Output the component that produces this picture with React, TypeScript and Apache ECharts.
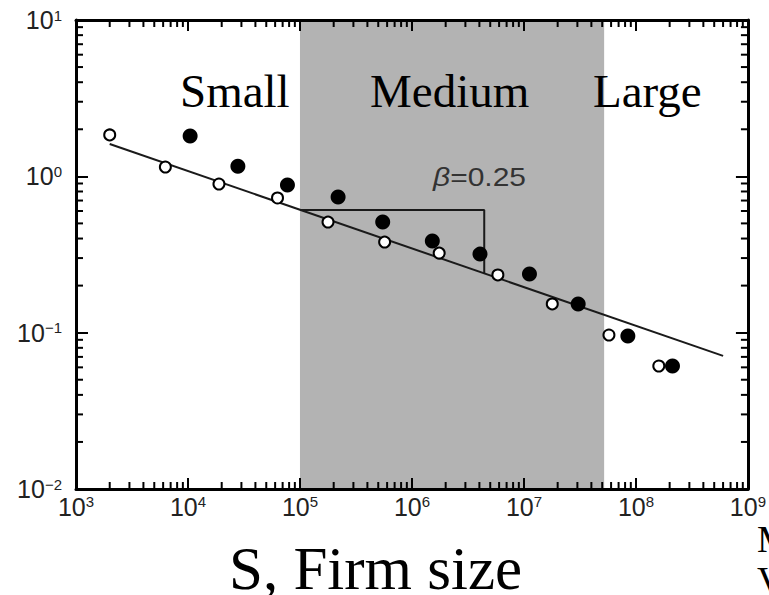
import React, { useEffect, useRef } from "react";
import * as echarts from "echarts";

// ---- data ----
const openSizes = [2.0e3, 6.28e3, 1.89e4, 6.3e4, 1.78e5, 5.7e5, 1.75e6, 5.85e6, 1.79e7, 5.74e7, 1.6e8];
const openValues = [1.84, 1.147, 0.893, 0.727, 0.51, 0.38, 0.323, 0.234, 0.1526, 0.0966, 0.0612];
const filledSizes = [1.045e4, 2.79e4, 7.73e4, 2.19e5, 5.48e5, 1.52e6, 4.05e6, 1.12e7, 3.05e7, 8.47e7, 2.12e8];
const filledValues = [1.81, 1.16, 0.88, 0.738, 0.51, 0.386, 0.318, 0.237, 0.1526, 0.0952, 0.0612];
const fitX = [2e3, 6e8];
const fitY = [1.61, 0.071];
const triangleX = [1e5, 4.42e6, 4.42e6];
const triangleY = [0.609, 0.609, 0.24];
const mediumBand = [1e5, 5.2e7];
const xDecades = [1e3, 1e4, 1e5, 1e6, 1e7, 1e8];
const yDecades = [1e-2, 1e-1, 1e0];
const minorMultipliers = [2, 3, 4, 5, 6, 7, 8, 9];
const regionLabels = ["Small", "Medium", "Large"];
const betaLabel = "=0.25";
const xTitle = "S, Firm size";

const xMinor: number[] = [];
xDecades.forEach((d) => minorMultipliers.forEach((m) => xMinor.push(d * m)));
const yMinor: number[] = [];
yDecades.forEach((d) => minorMultipliers.forEach((m) => yMinor.push(d * m)));

const AXIS_COLOR = "#000";
const LABEL_COLOR = "#222";

const expLabel = (v: number) => {
  const e = Math.round(Math.log10(v));
  const s = e < 0 ? "\u2212" + -e : String(e);
  return `{b|10}{s|${s}}`;
};

const labelRich = {
  b: { fontSize: 25, fontFamily: "Liberation Sans", color: LABEL_COLOR },
  s: { fontSize: 15, fontFamily: "Liberation Sans", color: LABEL_COLOR, verticalAlign: "top" },
};

const tickLine = (x1: number, y1: number, x2: number, y2: number) => ({
  type: "line",
  shape: { x1, y1, x2, y2 },
  style: { stroke: AXIS_COLOR, lineWidth: 2 },
});

const makeX = (position: string, showLabel: boolean) => ({
  type: "log",
  logBase: 10,
  min: 1e3,
  max: 1e9,
  splitNumber: 6,
  position,
  z: 10,
  splitLine: { show: false },
  axisLine: { show: true, onZero: false, lineStyle: { color: AXIS_COLOR, width: 3 } },
  axisTick: { show: true, inside: true, length: 11, lineStyle: { color: AXIS_COLOR, width: 2 } },
  axisLabel: showLabel
    ? { show: true, margin: 5, fontSize: 25, showMinLabel: true, showMaxLabel: true, formatter: expLabel, rich: labelRich }
    : { show: false },
});

const makeY = (position: string, showLabel: boolean) => ({
  type: "log",
  logBase: 10,
  min: 1e-2,
  max: 1e1,
  splitNumber: 3,
  position,
  z: 10,
  splitLine: { show: false },
  axisLine: { show: true, onZero: false, lineStyle: { color: AXIS_COLOR, width: 3 } },
  axisTick: { show: true, inside: true, length: 12, lineStyle: { color: AXIS_COLOR, width: 2 } },
  axisLabel: showLabel
    ? { show: true, margin: 14, fontSize: 25, showMinLabel: true, showMaxLabel: true, formatter: expLabel, rich: labelRich }
    : { show: false },
});

export default function App() {
  const ref = useRef<HTMLDivElement>(null);

  useEffect(() => {
    document.body.style.margin = "0";
    const chart = echarts.init(ref.current!, null, { renderer: "svg" });

    chart.setOption({
      animation: false,
      backgroundColor: "#fff",
      grid: { left: 76, right: 16, top: 20, bottom: 106 },
      xAxis: [makeX("bottom", true), makeX("top", false)],
      yAxis: [makeY("left", true), makeY("right", false)],
      series: [
        {
          type: "line",
          name: "fit",
          z: 3,
          data: fitX.map((x, i) => [x, fitY[i]]),
          symbol: "none",
          lineStyle: { color: "#1a1a1a", width: 2 },
          markArea: {
            silent: true,
            z: 1,
            itemStyle: { color: "#b3b3b3", opacity: 1 },
            data: [[{ xAxis: mediumBand[0] }, { xAxis: mediumBand[1] }]],
          },
        },
        {
          type: "line",
          name: "slope",
          z: 3,
          data: triangleX.map((x, i) => [x, triangleY[i]]),
          symbol: "none",
          lineStyle: { color: "#1a1a1a", width: 2 },
        },
        {
          type: "scatter",
          name: "open",
          z: 4,
          symbol: "circle",
          symbolSize: 11,
          itemStyle: { color: "#fff", borderColor: "#000", borderWidth: 2, opacity: 1 },
          data: openSizes.map((x, i) => [x, openValues[i]]),
        },
        {
          type: "scatter",
          name: "filled",
          z: 5,
          symbol: "circle",
          symbolSize: 15,
          itemStyle: { color: "#000", opacity: 1 },
          data: filledSizes.map((x, i) => [x, filledValues[i]]),
        },
        {
          type: "custom",
          name: "xMinorTicks",
          z: 11,
          silent: true,
          clip: false,
          encode: { x: 0, y: 1 },
          data: xMinor.map((v) => [v, 1]),
          renderItem: (params: any, api: any) => {
            const cs = params.coordSys;
            const px = api.coord([api.value(0), 1])[0];
            const bottom = cs.y + cs.height;
            return {
              type: "group",
              children: [tickLine(px, bottom, px, bottom - 7), tickLine(px, cs.y, px, cs.y + 7)],
            };
          },
        },
        {
          type: "custom",
          name: "yMinorTicks",
          z: 11,
          silent: true,
          clip: false,
          encode: { x: 0, y: 1 },
          data: yMinor.map((v) => [1e4, v]),
          renderItem: (params: any, api: any) => {
            const cs = params.coordSys;
            const py = api.coord([1e4, api.value(1)])[1];
            const right = cs.x + cs.width;
            return {
              type: "group",
              children: [tickLine(cs.x, py, cs.x + 7, py), tickLine(right, py, right - 7, py)],
            };
          },
        },
      ],
      graphic: [
        {
          type: "text",
          x: 180,
          y: 91,
          z: 20,
          style: { text: regionLabels[0], font: '47px "Liberation Serif"', fill: "#000", textVerticalAlign: "middle" },
        },
        {
          type: "text",
          x: 370,
          y: 91,
          z: 20,
          style: { text: regionLabels[1], font: '47px "Liberation Serif"', fill: "#000", textVerticalAlign: "middle" },
        },
        {
          type: "text",
          x: 593,
          y: 91,
          z: 20,
          style: { text: regionLabels[2], font: '47px "Liberation Serif"', fill: "#000", textVerticalAlign: "middle" },
        },
        {
          type: "text",
          x: 433,
          y: 177,
          scaleX: 1.2,
          z: 20,
          style: {
            text: "{i|\u03b2}{n|" + betaLabel + "}",
            x: 0,
            y: 0,
            textVerticalAlign: "middle",
            rich: {
              i: { font: 'italic 25px "Liberation Sans"', fill: "#333" },
              n: { font: '25px "Liberation Sans"', fill: "#333" },
            },
          },
        },
        {
          type: "text",
          x: 229,
          y: 568,
          z: 20,
          style: { text: xTitle, font: '61px "Liberation Serif"', fill: "#000", textVerticalAlign: "middle" },
        },
        {
          type: "rect",
          z: 30,
          shape: { x: 756, y: 518, width: 20, height: 80 },
          style: { fill: "#fff" },
        },
        {
          type: "text",
          x: 757,
          y: 539,
          z: 31,
          style: { text: "M", font: '38px "Liberation Serif"', fill: "#000", textVerticalAlign: "middle" },
        },
        {
          type: "text",
          x: 757,
          y: 580,
          z: 31,
          style: { text: "V", font: '38px "Liberation Serif"', fill: "#000", textVerticalAlign: "middle" },
        },
      ],
    });

    return () => chart.dispose();
  }, []);

  return (
    <div
      ref={ref}
      style={{ position: "absolute", left: 0, top: 0, width: 769, height: 595 }}
    />
  );
}
